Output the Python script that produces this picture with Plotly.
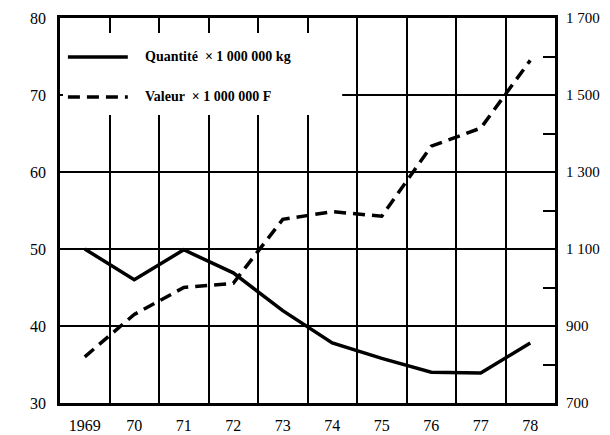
import plotly.graph_objects as go

years = [1969, 1970, 1971, 1972, 1973, 1974, 1975, 1976, 1977, 1978]
year_labels = ["1969", "70", "71", "72", "73", "74", "75", "76", "77", "78"]
quantite = [50.0, 46.0, 49.9, 46.9, 42.0, 37.8, 35.8, 34.0, 33.9, 37.8]
valeur = [820, 930, 1000, 1011, 1177, 1197, 1185, 1367, 1414, 1590]
left_ticks = [30, 40, 50, 60, 70, 80]
right_ticks = list(range(700, 1800, 100))
right_text = ["700", "", "900", "", "1 100", "", "1 300", "", "1 500", "", "1 700"]
legend_labels = ["Quantité  × 1 000 000 kg", "Valeur  × 1 000 000 F"]

SERIF = "Liberation Serif"

fig = go.Figure()
fig.add_trace(go.Scatter(x=years, y=quantite, mode="lines", name=legend_labels[0],
                         line=dict(color="black", width=3.5), yaxis="y", showlegend=False))
fig.add_trace(go.Scatter(x=years, y=valeur, mode="lines", name=legend_labels[1],
                         line=dict(color="black", width=3.5, dash="12px,7px"), yaxis="y2",
                         showlegend=False))

# mask behind legend (gridlines hidden there)
fig.add_shape(type="rect", xref="paper", yref="paper", x0=0.006, x1=0.57, y0=0.748, y1=0.961,
              fillcolor="white", line=dict(width=0), layer="above")

# manual legend
for i, (lab, dash) in enumerate(zip(legend_labels, ["solid", "12px,7px"])):
    yp = [0.899, 0.795][i]
    fig.add_shape(type="line", xref="paper", yref="paper", x0=0.016, x1=0.137, y0=yp, y1=yp,
                  line=dict(color="black", width=3.5, dash=dash), layer="above")
    fig.add_annotation(xref="paper", yref="paper", x=0.168, y=yp, text="<b>%s</b>" % lab,
                       showarrow=False, xanchor="left", yanchor="middle",
                       font=dict(family=SERIF, size=14, color="black"))

fig.update_layout(
    width=602, height=427,
    margin=dict(l=52, r=55, t=10, b=32),
    paper_bgcolor="white", plot_bgcolor="white",
    font=dict(family=SERIF, size=16, color="black"),
    xaxis=dict(range=[1968.5, 1978.5], tickvals=years, ticktext=year_labels, automargin=False,
               showgrid=False, zeroline=False, showline=True, linewidth=3, linecolor="black",
               mirror=True, ticks="", ticklabelstandoff=6,
               minor=dict(tickvals=[y + 0.5 for y in years[:-1]], showgrid=True,
                          gridcolor="black", gridwidth=1.5, ticks="")),
    yaxis=dict(range=[30, 80], tickvals=left_ticks, showgrid=True, gridcolor="black",
               automargin=False,
               gridwidth=1.5, zeroline=False, showline=True, linewidth=2.5, linecolor="black",
               ticks="inside", ticklen=9, tickwidth=1.5, tickcolor="black", ticklabelstandoff=8),
    yaxis2=dict(range=[700, 1700], overlaying="y", side="right", tickvals=right_ticks,
                ticktext=right_text, showgrid=False, zeroline=False, showline=True,
                automargin=False,
                linewidth=3, linecolor="black", ticks="inside", ticklen=12, tickwidth=1.5,
                tickcolor="black", ticklabelstandoff=5, tickfont=dict(size=15)),
)

fig.write_html("out.html")
